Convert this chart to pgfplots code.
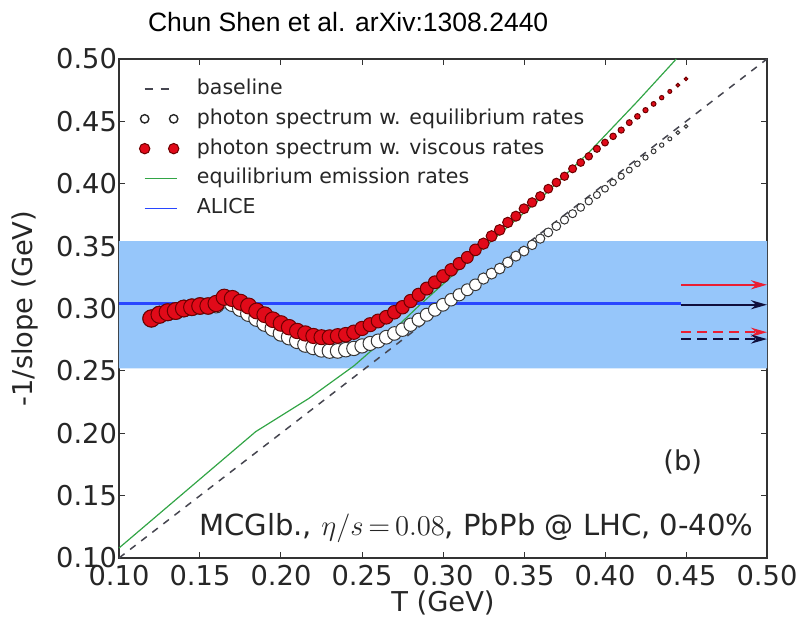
\documentclass[border=0pt]{standalone}
\usepackage{pgfplots}
\pgfplotsset{compat=1.18}
\usepackage{pgfplotstable}
\usetikzlibrary{arrows.meta}
\usepackage{fontspec}
\setmainfont{DejaVu Sans}
\newfontfamily\titlefont{Liberation Sans}

\definecolor{bandblue}{RGB}{150,198,250}
\definecolor{alicecolor}{RGB}{40,70,255}
\definecolor{eqgreen}{RGB}{50,165,70}
\definecolor{basegray}{RGB}{70,70,80}
\definecolor{viscred}{RGB}{225,10,25}
\definecolor{viscedge}{RGB}{110,0,0}
\definecolor{eqedge}{RGB}{55,55,55}
\definecolor{arrowred}{RGB}{235,30,50}
\definecolor{arrownavy}{RGB}{15,15,60}

\newcommand\tickfont{\fontsize{13.7}{16}\selectfont}
\newcommand\legfont{\fontsize{10.3}{12}\selectfont}

\pgfplotsset{
  twomarks legend/.style={legend image code/.code={\draw[##1] plot coordinates {(0bp,0bp) (14.5bp,0bp)};}},
  short line legend/.style={legend image code/.code={\draw[##1] (0bp,0bp) -- (16bp,0bp);}},
}

% T, inverse slope with viscous rates (v), with equilibrium rates (w), marker radius (s, bp)
\pgfplotstableread{
T     v      w      s
0.120 0.292  0.292  4.30
0.125 0.295  0.295  4.27
0.130 0.297  0.297  4.25
0.135 0.298  0.298  4.22
0.140 0.300  0.300  4.20
0.145 0.301  0.301  4.17
0.150 0.302  0.302  4.15
0.155 0.302  0.302  4.12
0.160 0.304  0.303  4.10
0.165 0.309  0.307  4.07
0.170 0.308  0.304  4.05
0.175 0.305  0.300  4.02
0.180 0.302  0.296  4.00
0.185 0.298  0.292  3.97
0.190 0.295  0.288  3.95
0.195 0.291  0.284  3.92
0.200 0.288  0.280  3.90
0.205 0.285  0.277  3.87
0.210 0.282  0.274  3.85
0.215 0.280  0.271  3.82
0.220 0.278  0.269  3.80
0.225 0.277  0.267  3.76
0.230 0.277  0.266  3.72
0.235 0.278  0.266  3.68
0.240 0.279  0.267  3.64
0.245 0.281  0.268  3.60
0.250 0.284  0.270  3.56
0.255 0.287  0.272  3.52
0.260 0.290  0.274  3.48
0.265 0.293  0.277  3.44
0.270 0.297  0.280  3.40
0.275 0.301  0.283  3.36
0.280 0.306  0.287  3.32
0.285 0.311  0.291  3.28
0.290 0.316  0.295  3.25
0.295 0.321  0.299  3.22
0.300 0.326  0.303  3.20
0.305 0.331  0.307  3.12
0.310 0.336  0.311  3.05
0.315 0.341  0.315  2.97
0.320 0.347  0.319  2.90
0.325 0.352  0.324  2.82
0.330 0.358  0.328  2.75
0.335 0.363  0.332  2.67
0.340 0.369  0.337  2.60
0.345 0.374  0.342  2.52
0.350 0.380  0.346  2.45
0.355 0.385  0.351  2.37
0.360 0.390  0.356  2.30
0.365 0.396  0.361  2.22
0.370 0.401  0.366  2.15
0.375 0.406  0.371  2.07
0.380 0.412  0.376  2.00
0.385 0.417  0.381  1.92
0.390 0.422  0.386  1.85
0.395 0.428  0.391  1.77
0.400 0.433  0.396  1.70
0.405 0.438  0.401  1.62
0.410 0.443  0.406  1.55
0.415 0.449  0.411  1.47
0.420 0.454  0.416  1.40
0.425 0.459  0.421  1.30
0.430 0.464  0.426  1.20
0.435 0.469  0.431  1.10
0.440 0.474  0.436  1.00
0.445 0.479  0.441  0.95
0.450 0.484  0.446  0.90
}\photondata

% equilibrium emission rates
\pgfplotstableread{
T      y
0.100  0.108
0.1844 0.2013
0.2173 0.228
0.245  0.254
0.260  0.271
0.285  0.302
0.320  0.343
0.360  0.388
0.390  0.425
0.420  0.466
0.444  0.500
}\eqrates

\begin{document}
\begin{tikzpicture}
\begin{axis}[
  scale only axis,
  width=324bp, height=249.5bp,
  xmin=0.10, xmax=0.50, ymin=0.10, ymax=0.50,
  xtick={0.10,0.15,...,0.51}, ytick={0.10,0.15,...,0.51},
  /pgf/number format/assume math mode=true,
  xticklabel style={/pgf/number format/fixed, /pgf/number format/fixed zerofill, /pgf/number format/precision=2},
  yticklabel style={/pgf/number format/fixed, /pgf/number format/fixed zerofill, /pgf/number format/precision=2, xshift=2.5bp},
  tick label style={font=\tickfont, text=black!85},
  tick align=inside, tick pos=both,
  major tick length=3bp,
  tick style={line width=0.5bp, color=black!80},
  axis line style={line width=0.6bp, color=black!80},
  clip=false,
  xlabel={T (GeV)}, ylabel={-1/slope (GeV)},
  label style={font=\tickfont, text=black!85},
  xlabel style={at={(axis description cs:0.5,-0.09)}, anchor=center},
  ylabel style={at={(axis description cs:-0.145,0.5)}, anchor=center},
  legend style={font=\legfont, draw=none, fill=none, text=black!85,
    at={(axis description cs:0.031,0.960)}, anchor=north west,
    inner sep=0pt, row sep=5.2bp,
    nodes={inner sep=0pt, text height=7.6bp, text depth=2.1bp},
    /tikz/every odd column/.append style={column sep=9bp}},
  legend cell align=left,
]
% ALICE band
\addplot[fill=bandblue, draw=none, forget plot]
  coordinates {(0.10,0.252) (0.50,0.252) (0.50,0.354) (0.10,0.354) (0.10,0.252)};

% photon spectrum, equilibrium rates
\addplot[scatter, only marks, mark=*, forget plot,
  scatter/use mapped color={draw=eqedge, fill=white},
  visualization depends on={\thisrow{s} \as \msz},
  scatter/@pre marker code/.append style={/tikz/mark size=\msz bp},
  mark options={line width=0.5bp}]
  table[x=T, y=w] {\photondata};

% photon spectrum, viscous rates
\addplot[scatter, only marks, mark=*, forget plot,
  scatter/use mapped color={draw=viscedge, fill=viscred},
  visualization depends on={\thisrow{s} \as \msz},
  scatter/@pre marker code/.append style={/tikz/mark size=\msz bp},
  mark options={line width=0.5bp}]
  table[x=T, y=v] {\photondata};

% baseline
\addplot[color=basegray, line width=0.75bp, dash pattern=on 3.5bp off 3.5bp, forget plot]
  coordinates {(0.10,0.10) (0.50,0.50)};

% equilibrium emission rates
\addplot[color=eqgreen, line width=0.6bp, forget plot] table[x=T, y=y] {\eqrates};

% arrows at the right edge
\addplot[color=arrowred, line width=1.2bp, -{Stealth[length=8bp, width=4.5bp]}, forget plot]
  coordinates {(0.447,0.319) (0.50,0.319)};
\addplot[color=arrowred, line width=1.2bp, dash pattern=on 5bp off 3bp, -{Stealth[length=8bp, width=4.5bp]}, forget plot]
  coordinates {(0.447,0.281) (0.50,0.281)};
\addplot[color=arrownavy, line width=1.2bp, dash pattern=on 5bp off 3bp, -{Stealth[length=8bp, width=4.5bp]}, forget plot]
  coordinates {(0.447,0.2755) (0.50,0.2755)};

% ALICE
\addplot[color=alicecolor, line width=1.1bp, forget plot] coordinates {(0.10,0.304) (0.447,0.304)};
\addplot[color=arrownavy, line width=1.2bp, -{Stealth[length=8bp, width=4.5bp]}, forget plot]
  coordinates {(0.447,0.303) (0.50,0.303)};

% legend
\addlegendimage{short line legend, color=basegray, line width=0.75bp, dash pattern=on 4bp off 4bp}
\addlegendentry{baseline}
\addlegendimage{twomarks legend, only marks, mark=*, mark size=2.1bp, mark options={draw=black!85, fill=white, line width=0.7bp}}
\addlegendentry{photon spectrum w. equilibrium rates}
\addlegendimage{twomarks legend, only marks, mark=*, mark size=2.6bp, mark options={draw=viscedge, fill=viscred, line width=0.5bp}}
\addlegendentry{photon spectrum w. viscous rates}
\addlegendimage{short line legend, color=eqgreen, line width=0.6bp}
\addlegendentry{equilibrium emission rates}
\addlegendimage{short line legend, color=alicecolor, line width=0.7bp}
\addlegendentry{ALICE}

% annotations
\node[font=\tickfont, text=black!85, anchor=center] at (axis description cs:0.870,0.192) {(b)};
\node[font=\fontsize{14.6}{17}\selectfont, text=black!85, anchor=east, inner sep=0pt] at (axis description cs:0.980,0.060)
  {MCGlb., $\eta/s\,{=}\,0.08$, PbPb @ LHC, 0-40\%};
\node[font=\titlefont\fontsize{13.3}{16}\selectfont, anchor=west] at (axis description cs:0.034,1.074)
  {Chun Shen et al. arXiv:1308.2440};
\end{axis}
\pgfresetboundingbox
\path ([shift={(-59.5bp,-30.5bp)}]current axis.south west) rectangle ([shift={(17bp,29.5bp)}]current axis.north east);
\end{tikzpicture}
\end{document}
